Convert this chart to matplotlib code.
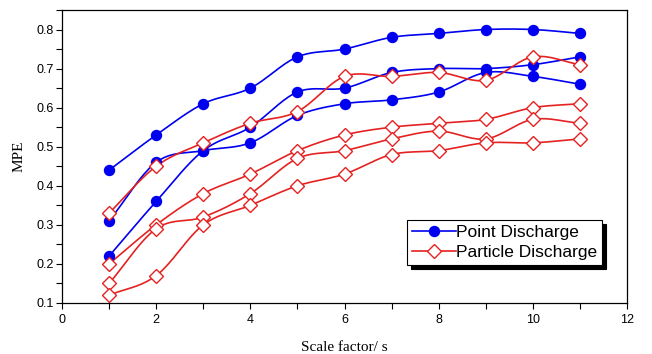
import numpy as np
import matplotlib
matplotlib.use("Agg")
import matplotlib.pyplot as plt
from matplotlib.ticker import MultipleLocator
from matplotlib.lines import Line2D

x = [1, 2, 3, 4, 5, 6, 7, 8, 9, 10, 11]

point_1 = [0.44, 0.53, 0.61, 0.65, 0.73, 0.75, 0.78, 0.79, 0.80, 0.80, 0.79]
point_2 = [0.31, 0.46, 0.49, 0.51, 0.58, 0.61, 0.62, 0.64, 0.69, 0.68, 0.66]
point_3 = [0.22, 0.36, 0.49, 0.55, 0.64, 0.65, 0.69, 0.70, 0.70, 0.71, 0.73]

particle_1 = [0.33, 0.45, 0.51, 0.56, 0.59, 0.68, 0.68, 0.69, 0.67, 0.73, 0.71]
particle_2 = [0.20, 0.30, 0.38, 0.43, 0.49, 0.53, 0.55, 0.56, 0.57, 0.60, 0.61]
particle_3 = [0.15, 0.29, 0.32, 0.38, 0.47, 0.49, 0.52, 0.54, 0.52, 0.57, 0.56]
particle_4 = [0.12, 0.17, 0.30, 0.35, 0.40, 0.43, 0.48, 0.49, 0.51, 0.51, 0.52]

point_series = [point_1, point_2, point_3]
particle_series = [particle_1, particle_2, particle_3, particle_4]


def smooth(xs, ys, n=20):
    """Catmull-Rom curve through the data points (for drawing only)."""
    xs = np.asarray(xs, float)
    ys = np.asarray(ys, float)
    px = np.concatenate([[2 * xs[0] - xs[1]], xs, [2 * xs[-1] - xs[-2]]])
    py = np.concatenate([[2 * ys[0] - ys[1]], ys, [2 * ys[-1] - ys[-2]]])
    ox, oy = [], []
    t = np.linspace(0, 1, n, endpoint=False)
    for i in range(1, len(px) - 2):
        for arr, out in ((px, ox), (py, oy)):
            p0, p1, p2, p3 = arr[i - 1], arr[i], arr[i + 1], arr[i + 2]
            out.extend(0.5 * ((2 * p1) + (-p0 + p2) * t
                              + (2 * p0 - 5 * p1 + 4 * p2 - p3) * t ** 2
                              + (-p0 + 3 * p1 - 3 * p2 + p3) * t ** 3))
    ox.append(xs[-1]); oy.append(ys[-1])
    return np.array(ox), np.array(oy)


fig = plt.figure(figsize=(6.52, 3.54), dpi=100)
ax = fig.add_axes([0.0951, 0.1441, 0.8666, 0.8277])

blue = "#0000f0"
red = "#e52222"
ms_c = 7.2
ms_d = 7.0

for ys in point_series:
    sx, sy = smooth(x, ys)
    ax.plot(sx, sy, color=blue, lw=1.2, zorder=2)
    ax.plot(x, ys, ls="none", marker="o", ms=ms_c, mfc=blue, mec=blue, zorder=3)

for ys in particle_series:
    sx, sy = smooth(x, ys)
    ax.plot(sx, sy, color=red, lw=1.2, zorder=2)
    ax.plot(x, ys, ls="none", marker="D", ms=ms_d, mfc="white", mec=red, mew=1.0,
            zorder=3)

h1 = Line2D([], [], color=blue, lw=1.2, marker="o", ms=ms_c, mfc=blue, mec=blue)
h2 = Line2D([], [], color=red, lw=1.2, marker="D", ms=ms_d, mfc="white", mec=red)
leg = ax.legend([h1, h2], ["Point Discharge", "Particle Discharge"],
                loc="lower right", bbox_to_anchor=(0.956, 0.13),
                frameon=True, fancybox=False, edgecolor="black",
                framealpha=1, borderpad=0.3, labelspacing=0.25,
                handlelength=2.5, handletextpad=0.0, borderaxespad=0,
                prop={"family": "Liberation Sans", "size": 12.5},
                shadow={"ox": 3, "oy": -3, "facecolor": "black",
                        "edgecolor": "black", "alpha": 1})
leg.get_frame().set_linewidth(0.8)

ax.set_xlim(0, 12)
ax.set_ylim(0.1, 0.85)
ax.xaxis.set_major_locator(MultipleLocator(2))
ax.xaxis.set_minor_locator(MultipleLocator(1))
ax.yaxis.set_minor_locator(MultipleLocator(0.05))
ax.set_yticks([0.1, 0.2, 0.3, 0.4, 0.5, 0.6, 0.7, 0.8])
ax.tick_params(which="both", direction="out", length=4, width=0.8,
               top=False, right=False, labelsize=9)
ax.tick_params(axis="x", pad=4)
ax.tick_params(axis="y", pad=2)
for lab in ax.get_xticklabels() + ax.get_yticklabels():
    lab.set_family("Liberation Sans")
for s in ax.spines.values():
    s.set_linewidth(0.9)

ax.set_xlabel("Scale factor/ s", family="Liberation Serif", fontsize=11, labelpad=11)
ax.set_ylabel("MPE", family="Liberation Serif", fontsize=11, labelpad=8)

fig.savefig("out.png", dpi=100)
